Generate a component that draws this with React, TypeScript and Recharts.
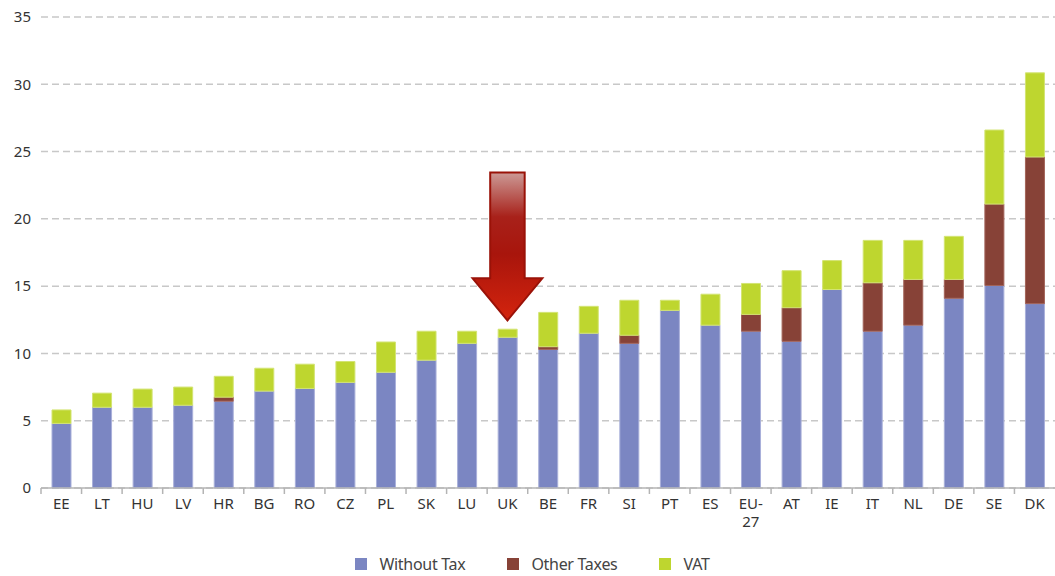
import React from 'react';
import { BarChart, Bar, XAxis, YAxis, CartesianGrid, Legend, ReferenceArea } from 'recharts';

const categories = ['EE', 'LT', 'HU', 'LV', 'HR', 'BG', 'RO', 'CZ', 'PL', 'SK', 'LU', 'UK', 'BE', 'FR', 'SI', 'PT', 'ES', 'EU-27', 'AT', 'IE', 'IT', 'NL', 'DE', 'SE', 'DK'];
const withoutTax = [4.8, 6.0, 6.0, 6.15, 6.45, 7.2, 7.4, 7.85, 8.6, 9.5, 10.75, 11.2, 10.3, 11.5, 10.75, 13.2, 12.1, 11.65, 10.9, 14.75, 11.65, 12.1, 14.1, 15.05, 13.7];
const otherTaxes = [0, 0, 0, 0, 0.3, 0, 0, 0, 0, 0, 0, 0, 0.2, 0, 0.6, 0, 0, 1.25, 2.5, 0, 3.6, 3.4, 1.4, 6.05, 10.9];
const vat = [1.0, 1.05, 1.35, 1.35, 1.55, 1.7, 1.8, 1.55, 2.25, 2.15, 0.9, 0.6, 2.55, 2.0, 2.6, 0.75, 2.3, 2.3, 2.75, 2.15, 3.15, 2.9, 3.2, 5.5, 6.25];
const yTicks = [0, 5, 10, 15, 20, 25, 30, 35];
const seriesNames = ['Without Tax', 'Other Taxes', 'VAT'];
const seriesColors = ['#7b86c2', '#874237', '#bed62f'];
const arrowCategory = 'UK';
const arrowTip = 12.45;
const arrowTop = 23.45;

const data = categories.map((c, i) => ({
  name: c,
  withoutTax: withoutTax[i],
  otherTaxes: otherTaxes[i],
  vat: vat[i],
}));

const FONT = '"Noto Sans", "DejaVu Sans", sans-serif';

const XTick = (props: any) => {
  const { x, y, payload } = props;
  const value: string = payload.value;
  const lines = value === 'EU-27' ? ['EU-', '27'] : [value];
  const half = payload.offset ?? 20.28;
  return (
    <g>
      <line x1={x - half} x2={x - half} y1={y - 8} y2={y - 2} stroke="#b4b4b4" strokeWidth={1.5} />
      <text x={x} y={y} textAnchor="middle" fill="#333" fontSize={15} fontFamily={FONT}>
        {lines.map((l, i) => (
          <tspan key={i} x={x} dy={i === 0 ? '0.85em' : '1.2em'}>{l}</tspan>
        ))}
      </text>
    </g>
  );
};

const ArrowShape = (props: any) => {
  const { x, y, width, height } = props;
  if (x == null || y == null) return null;
  const cx = x + width / 2;
  const shaftW = width * 0.85;
  const headW = width * 1.72;
  const headH = height * 0.285;
  const yHead = y + height - headH;
  const tip = y + height;
  const d = `M ${cx - shaftW / 2} ${y} L ${cx + shaftW / 2} ${y} L ${cx + shaftW / 2} ${yHead} L ${cx + headW / 2} ${yHead} L ${cx} ${tip} L ${cx - headW / 2} ${yHead} L ${cx - shaftW / 2} ${yHead} Z`;
  return (
    <g>
      <defs>
        <linearGradient id="arrowGrad" x1="0" y1="0" x2="0" y2="1">
          <stop offset="0" stopColor="#cc9a96" />
          <stop offset="0.3" stopColor="#a8211a" />
          <stop offset="0.55" stopColor="#a8150c" />
          <stop offset="1" stopColor="#d4240e" />
        </linearGradient>
      </defs>
      <path d={d} fill="url(#arrowGrad)" stroke="#9a1208" strokeWidth={2} strokeLinejoin="miter" />
    </g>
  );
};

const LegendContent = () => (
  <div style={{ display: 'flex', justifyContent: 'center', alignItems: 'center', height: 36, paddingTop: 12, boxSizing: 'border-box', fontFamily: FONT, fontSize: 16, color: '#444', paddingLeft: 10, letterSpacing: -0.3 }}>
    {seriesNames.map((n, i) => (
      <div key={n} style={{ display: 'flex', alignItems: 'center', marginRight: i < seriesNames.length - 1 ? 42 : 0 }}>
        <div style={{ width: 12, height: 12, background: seriesColors[i], marginRight: 12 }} />
        <span>{n}</span>
      </div>
    ))}
  </div>
);

export default function App() {
  return (
    <div style={{ position: 'absolute', left: 0, top: 0, width: 1055, height: 576, background: '#fff' }}>
      <BarChart width={1055} height={576} data={data} margin={{ top: 17, right: 0, left: 0, bottom: 0 }} barSize={19}>
        <CartesianGrid vertical={false} strokeDasharray="7 4" stroke="#c8c8c8" strokeWidth={1.5} />
        <XAxis
          dataKey="name"
          interval={0}
          height={52}
          tick={<XTick />}
          tickLine={false}
          axisLine={{ stroke: '#b4b4b4', strokeWidth: 1.5 }}
        />
        <YAxis
          domain={[0, 35]}
          ticks={yTicks}
          width={41}
          axisLine={false}
          tickLine={false}
          tickMargin={4}
          tick={{ fill: '#333', fontSize: 15, fontFamily: FONT }}
        />
        <Legend verticalAlign="bottom" height={36} content={<LegendContent />} />
        <Bar dataKey="withoutTax" name={seriesNames[0]} stackId="a" fill={seriesColors[0]} stroke="#a9b0da" strokeWidth={1} isAnimationActive={false} />
        <Bar dataKey="otherTaxes" name={seriesNames[1]} stackId="a" fill={seriesColors[1]} stroke="#a3645a" strokeWidth={1} isAnimationActive={false} />
        <Bar dataKey="vat" name={seriesNames[2]} stackId="a" fill={seriesColors[2]} stroke="#d3e473" strokeWidth={1} isAnimationActive={false} />
        <ReferenceArea x1={arrowCategory} x2={arrowCategory} y1={arrowTip} y2={arrowTop} shape={<ArrowShape />} />
      </BarChart>
    </div>
  );
}
